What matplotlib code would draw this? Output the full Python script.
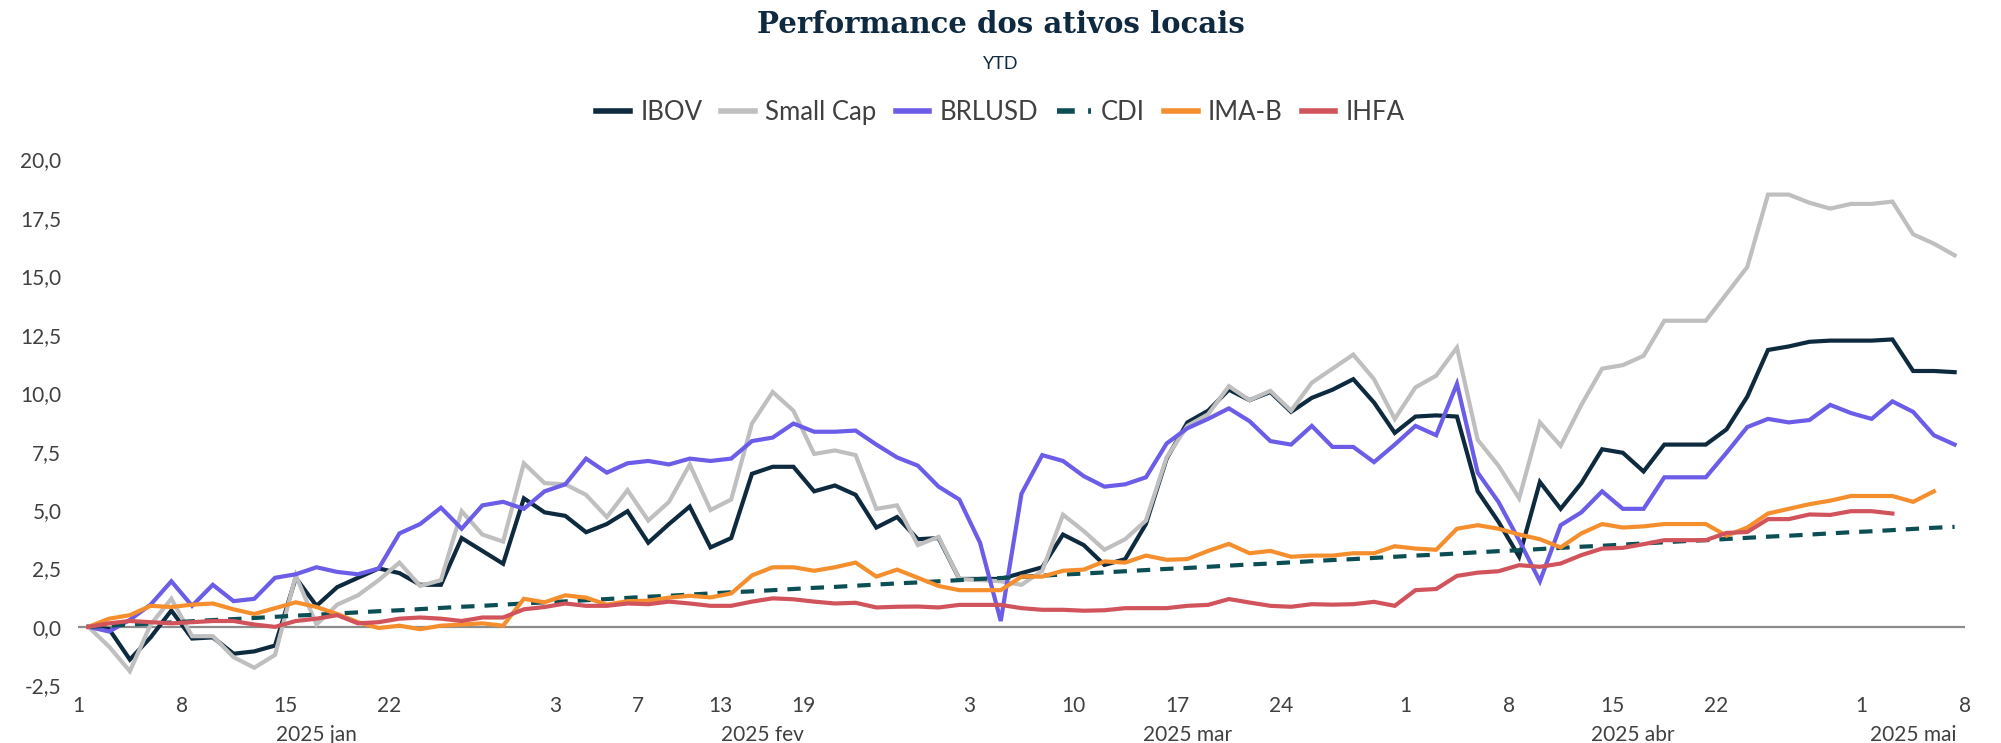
import numpy as np
import pandas as pd
import matplotlib
matplotlib.use('Agg')
import matplotlib.pyplot as plt
from matplotlib.lines import Line2D

# dias uteis do periodo (eixo por categoria)
bdays = pd.bdate_range('2025-01-01', '2025-05-08')

tick_dates = ['2025-01-01', '2025-01-08', '2025-01-15', '2025-01-22',
              '2025-02-03', '2025-02-07', '2025-02-13', '2025-02-19',
              '2025-03-03', '2025-03-10', '2025-03-17', '2025-03-24',
              '2025-04-01', '2025-04-08', '2025-04-15', '2025-04-22',
              '2025-05-01', '2025-05-08']
month_labels = ['2025 jan', '2025 fev', '2025 mar', '2025 abr', '2025 mai']

ibov = [0, -0.1, -1.4, -0.45, 0.7, -0.5, -0.45, -1.15, -1.05, -0.8,
        2.1, 0.9, 1.7, 2.1, 2.5, 2.3, 1.8, 1.8, 3.8, 3.25,
        2.7, 5.5, 4.9, 4.75, 4.05, 4.4, 4.95, 3.6, 4.4, 5.15,
        3.4, 3.8, 6.55, 6.85, 6.85, 5.8, 6.05, 5.65, 4.25, 4.7,
        3.75, 3.8, 2.05, 2.05, 2.05, 2.3, 2.55, 3.95, 3.5, 2.65,
        2.9, 4.4, 7.2, 8.75, 9.25, 10.15, 9.7, 10.05, 9.2, 9.8,
        10.15, 10.6, 9.6, 8.3, 9.0, 9.05, 9.0, 5.8, 4.5, 3.0,
        6.2, 5.05, 6.15, 7.6, 7.45, 6.65, 7.8, 7.8, 7.8, 8.45,
        9.85, 11.85, 12.0, 12.2, 12.25, 12.25, 12.25, 12.3, 10.95, 10.95,
        10.9]

small_cap = [0, -0.85, -1.9, 0.1, 1.2, -0.4, -0.4, -1.3, -1.75, -1.2,
             2.2, 0.1, 0.95, 1.35, 2.0, 2.75, 1.75, 2.0, 4.95, 3.95,
             3.65, 7.0, 6.15, 6.1, 5.65, 4.7, 5.85, 4.55, 5.35, 6.95,
             5.0, 5.45, 8.7, 10.05, 9.25, 7.4, 7.55, 7.35, 5.05, 5.2,
             3.5, 3.85, 2.05, 2.0, 1.95, 1.8, 2.4, 4.8, 4.1, 3.3,
             3.75, 4.55, 7.25, 8.6, 9.1, 10.3, 9.7, 10.1, 9.25, 10.45,
             11.05, 11.65, 10.6, 8.9, 10.25, 10.75, 11.95, 8.0, 6.9, 5.5,
             8.75, 7.75, 9.5, 11.05, 11.2, 11.6, 13.1, 13.1, 13.1, 14.25,
             15.4, 18.5, 18.5, 18.15, 17.9, 18.1, 18.1, 18.2, 16.8, 16.4,
             15.9]

brlusd = [0, -0.2, 0.3, 0.95, 1.95, 0.9, 1.8, 1.1, 1.2, 2.1,
          2.25, 2.55, 2.35, 2.25, 2.5, 4.0, 4.4, 5.1, 4.2, 5.2,
          5.35, 5.05, 5.8, 6.1, 7.2, 6.6, 7.0, 7.1, 6.95, 7.2,
          7.1, 7.2, 7.95, 8.1, 8.7, 8.35, 8.35, 8.4, 7.8, 7.25,
          6.9, 6.0, 5.45, 3.6, 0.25, 5.7, 7.35, 7.1, 6.45, 6.0,
          6.1, 6.4, 7.85, 8.5, 8.9, 9.35, 8.8, 7.95, 7.8, 8.6,
          7.7, 7.7, 7.05, 7.8, 8.6, 8.2, 10.4, 6.6, 5.35, 3.7,
          1.95, 4.35, 4.9, 5.8, 5.05, 5.05, 6.4, 6.4, 6.4, 7.45,
          8.55, 8.9, 8.75, 8.85, 9.5, 9.15, 8.9, 9.65, 9.2, 8.2,
          7.8]

cdi = [0.00, 0.05, 0.10, 0.14, 0.19, 0.24, 0.29, 0.33, 0.38, 0.43,
       0.48, 0.52, 0.57, 0.62, 0.67, 0.71, 0.76, 0.81, 0.86, 0.90,
       0.95, 1.00, 1.05, 1.09, 1.14, 1.19, 1.24, 1.29, 1.33, 1.38,
       1.43, 1.48, 1.52, 1.57, 1.62, 1.67, 1.71, 1.76, 1.81, 1.86,
       1.90, 1.95, 2.00, 2.05, 2.09, 2.14, 2.19, 2.24, 2.28, 2.33,
       2.38, 2.43, 2.48, 2.52, 2.57, 2.62, 2.67, 2.71, 2.76, 2.81,
       2.86, 2.90, 2.95, 3.00, 3.05, 3.09, 3.14, 3.19, 3.24, 3.28,
       3.33, 3.38, 3.43, 3.47, 3.52, 3.57, 3.62, 3.67, 3.71, 3.76,
       3.81, 3.86, 3.90, 3.95, 4.00, 4.05, 4.09, 4.14, 4.19, 4.24,
       4.28]

ima_b = [0, 0.35, 0.5, 0.9, 0.85, 0.95, 1.0, 0.75, 0.55, 0.8,
         1.05, 0.85, 0.55, 0.2, -0.05, 0.05, -0.1, 0.05, 0.1, 0.15,
         0.05, 1.2, 1.05, 1.35, 1.25, 0.95, 1.1, 1.12, 1.25, 1.33,
         1.26, 1.43, 2.2, 2.55, 2.55, 2.4, 2.55, 2.75, 2.15, 2.45,
         2.1, 1.75, 1.57, 1.57, 1.57, 2.15, 2.15, 2.4, 2.45, 2.8,
         2.75, 3.05, 2.87, 2.9, 3.25, 3.55, 3.15, 3.25, 3.0, 3.05,
         3.05, 3.15, 3.15, 3.45, 3.35, 3.3, 4.2, 4.35, 4.2, 3.95,
         3.75, 3.4, 4.0, 4.4, 4.25, 4.3, 4.4, 4.4, 4.4, 3.9,
         4.25, 4.85, 5.05, 5.25, 5.4, 5.6, 5.6, 5.6, 5.35, 5.8]

ihfa = [0, 0.15, 0.25, 0.2, 0.15, 0.2, 0.25, 0.25, 0.1, 0.0,
        0.25, 0.35, 0.5, 0.15, 0.2, 0.35, 0.4, 0.35, 0.25, 0.4,
        0.4, 0.75, 0.85, 1.0, 0.9, 0.9, 1.0, 0.97, 1.08, 1.0,
        0.9, 0.9, 1.08, 1.22, 1.18, 1.08, 1.0, 1.03, 0.83, 0.86,
        0.87, 0.83, 0.94, 0.94, 0.94, 0.8, 0.73, 0.73, 0.69, 0.71,
        0.8, 0.8, 0.8, 0.9, 0.94, 1.19, 1.04, 0.9, 0.86, 0.97,
        0.95, 0.97, 1.07, 0.9, 1.57, 1.62, 2.18, 2.32, 2.38, 2.64,
        2.57, 2.71, 3.07, 3.35, 3.38, 3.54, 3.71, 3.71, 3.71, 4.02,
        4.06, 4.61, 4.61, 4.81, 4.79, 4.95, 4.95, 4.85]

series = [
    ('IBOV', ibov, '#0e2a3f', '-'),
    ('Small Cap', small_cap, '#bfbfbf', '-'),
    ('BRLUSD', brlusd, '#6b5de8', '-'),
    ('CDI', cdi, '#0b4f55', (0, (3.2, 2.4))),
    ('IMA-B', ima_b, '#f58f2e', '-'),
    ('IHFA', ihfa, '#d1535c', '-'),
]

font = 'Lato'
txt_color = '#404040'

fig = plt.figure(figsize=(20.01, 7.43), dpi=100)
ax = fig.add_axes([0.039, 0.0777, 0.943, 0.7076])

ax.axhline(0, color='#8c8c8c', lw=1.6, zorder=1)

for name, vals, color, ls in series:
    x = np.arange(len(vals)) + 0.5  # pontos no centro da categoria
    ax.plot(x, vals, color=color, lw=3.0, linestyle=ls, label=name,
            solid_joinstyle='miter', zorder=2)

ax.set_xlim(0, len(bdays) - 1)
ax.set_ylim(-2.5, 20)

# eixo y
yt = np.arange(-2.5, 20.01, 2.5)
ax.set_yticks(yt)
ax.set_yticklabels([f'{v:.1f}'.replace('.', ',') for v in yt],
                   fontsize=15, color=txt_color, fontname=font)
ax.tick_params(axis='y', length=0, pad=12)

# eixo x
tick_pos = [bdays.get_loc(pd.Timestamp(d)) for d in tick_dates]
ax.set_xticks(tick_pos)
ax.set_xticklabels([str(pd.Timestamp(d).day) for d in tick_dates],
                   fontsize=15, color=txt_color, fontname=font)
ax.tick_params(axis='x', length=0, pad=8)

# rotulos dos meses
months = bdays.to_period('M')
for i, m in enumerate(months.unique()):
    idx = np.where(months == m)[0]
    end = idx[-1] + 1 if idx[-1] + 1 < len(bdays) else idx[-1]
    pos = (idx[0] + end) / 2
    if i == len(month_labels) - 1:
        pos = min(pos + 0.7, len(bdays) - 3.5)
    ax.text(pos, -0.095, month_labels[i], transform=ax.get_xaxis_transform(),
            ha='center', va='center', fontsize=15, color=txt_color, fontname=font)

for s in ax.spines.values():
    s.set_visible(False)

fig.text(0.5, 0.967, 'Performance dos ativos locais', ha='center', va='center',
         fontsize=21, fontweight='bold', color='#0f2a40', family='DejaVu Serif')
fig.text(0.5, 0.914, 'YTD', ha='center', va='center', fontsize=13,
         color='#0f2a40', fontname=font)

handles = [Line2D([], [], color=c, lw=4, linestyle=ls) for _, _, c, ls in series]
leg = fig.legend(handles, [s[0] for s in series], loc='center', ncol=6,
                 bbox_to_anchor=(0.5, 0.849), frameon=False,
                 prop={'family': font, 'size': 18.5}, handlelength=1.3,
                 handletextpad=0.4, columnspacing=0.75)
for t in leg.get_texts():
    t.set_color(txt_color)

fig.savefig('out.png', dpi=100)
